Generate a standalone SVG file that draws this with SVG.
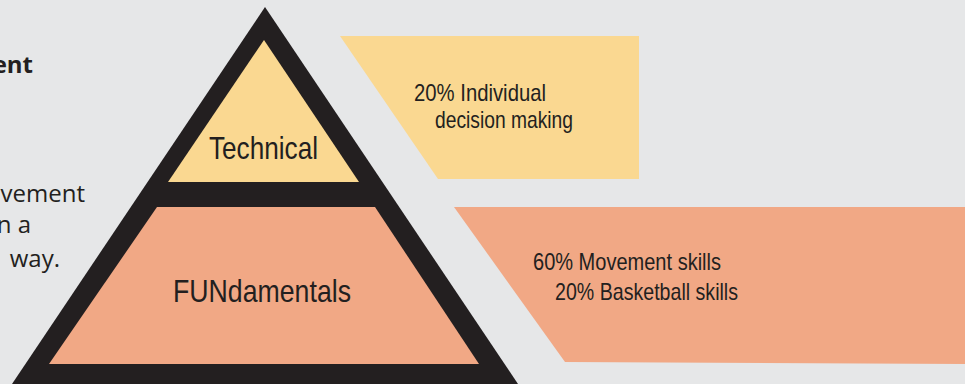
<svg xmlns="http://www.w3.org/2000/svg" width="965" height="384" viewBox="0 0 965 384">
<style>
.t{fill:#231f20;font-family:"Liberation Sans",Arial,sans-serif}
.s{font-size:24px}
.l{font-size:32px}
.side{fill:#231f20;font-family:"Open Sans","Liberation Sans",sans-serif;font-size:24px}
.yel{fill:#fad891}
.org{fill:#f1a885}
</style>
<rect width="965" height="384" fill="#e6e7e8"/>
<g id="intro-text">
<text class="side" x="33" y="73" text-anchor="end" font-weight="bold">ent</text>
<text class="side" x="85" y="202" text-anchor="end">vement</text>
<text class="side" x="31" y="233" text-anchor="end">n a</text>
<text class="side" x="60" y="267" text-anchor="end">way.</text>
</g>
<g id="pyramid">
<polygon points="265,7 518,384 12,384" fill="#231f20"/>
</g>
<g id="node-technical">
<polygon class="yel" points="264,40 359,182 168,182"/>
<text class="t l" x="209" y="159" textLength="109" lengthAdjust="spacingAndGlyphs">Technical</text>
</g>
<g id="node-fundamentals">
<polygon class="org" points="157,207 375,207 479,364 49,364"/>
<text class="t l" x="173" y="302" textLength="178" lengthAdjust="spacingAndGlyphs">FUNdamentals</text>
</g>
<g id="box-technical">
<polygon class="yel" points="340,36 639,36 639,179 438,179"/>
<text class="t s" x="414" y="101" textLength="132" lengthAdjust="spacingAndGlyphs">20% Individual</text>
<text class="t s" x="435" y="128" textLength="138" lengthAdjust="spacingAndGlyphs">decision making</text>
</g>
<g id="box-fundamentals">
<polygon class="org" points="454,207 965,207 965,364 565,362"/>
<text class="t s" x="533" y="270" textLength="188" lengthAdjust="spacingAndGlyphs">60% Movement skills</text>
<text class="t s" x="555" y="300" textLength="183" lengthAdjust="spacingAndGlyphs">20% Basketball skills</text>
</g>
<g id="connectors"/>
</svg>
